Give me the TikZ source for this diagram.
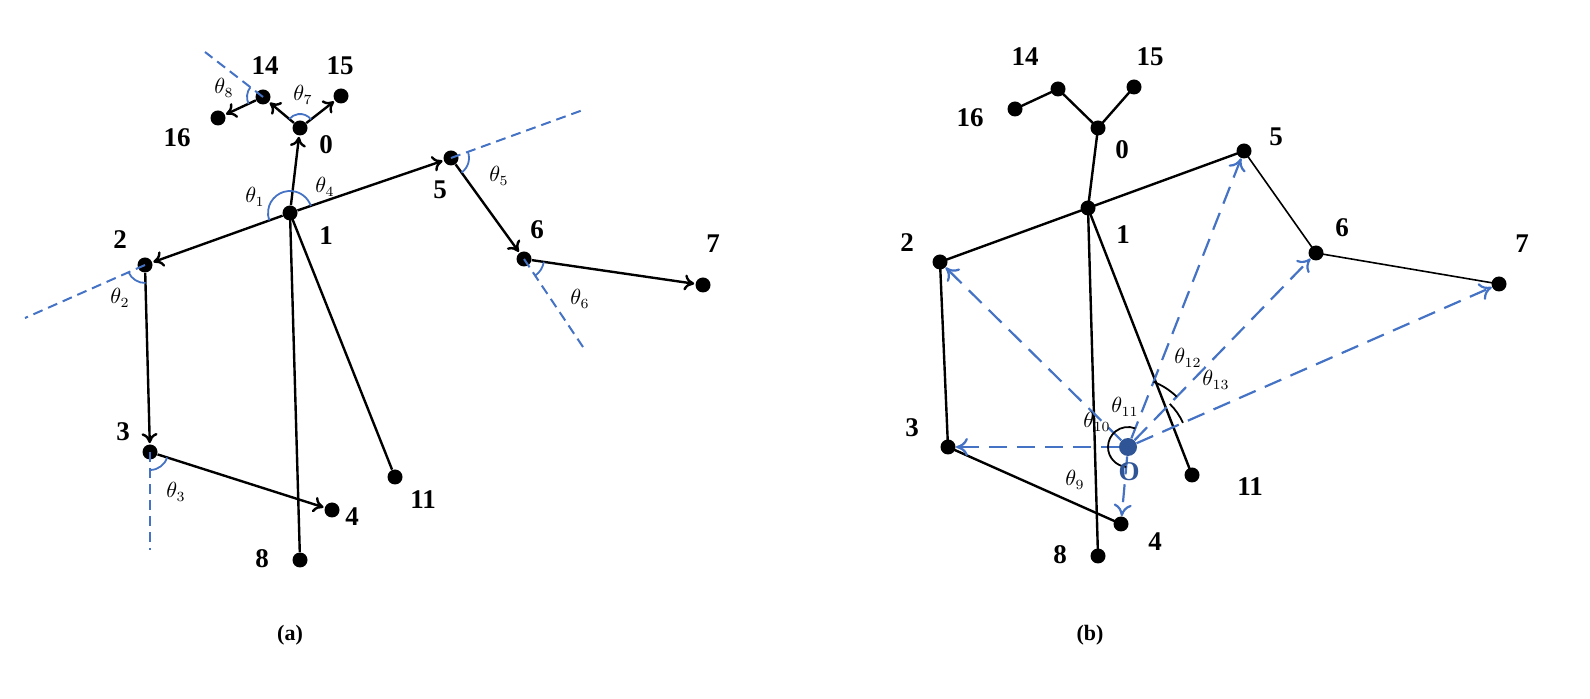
\documentclass[tikz,border=0pt]{standalone}
\usepackage{fontspec}
\setmainfont{Liberation Serif}
\usetikzlibrary{arrows.meta,angles}
\definecolor{bl}{HTML}{4472C4}
\definecolor{dbl}{HTML}{2F5597}
\begin{document}
\begin{tikzpicture}[x=0.5pt,y=-0.5pt,
 dot/.style={circle,fill=black,inner sep=0pt,minimum size=7.5pt},
 lab/.style={font=\fontsize{13.5}{13.5}\selectfont\bfseries},
 th/.style={font=\fontsize{10.5}{10.5}\selectfont},
 ed/.style={line width=1.2pt,-{To[length=5pt,width=8pt]},shorten >=0.5pt},
 ln/.style={line width=1.2pt},
 ext/.style={bl,dashed,line width=1pt,dash pattern=on 5pt off 3pt},
 ba/.style={draw=bl,line width=0.9pt},
 ka/.style={draw=black,line width=0.9pt},
 oa/.style={bl,line width=1.1pt,dash pattern=on 9pt off 5pt,-{To[length=6pt,width=9pt]}}]
% ---------- (a)
\foreach \n/\x/\y in {0/300/128,1/290/213,2/145/265,3/150/452,4/332/510,5/451/158,6/524/259,7/703/285,8/300/560,11/395/477,14/263/97,15/341/96,16/218/118}
  \node[dot] (a\n) at (\x,\y) {};
\coordinate (e14) at (205,52);
\coordinate (e5) at (583,110);
\coordinate (e2) at (25,318);
\coordinate (e6) at (585,350);
\coordinate (e3) at (150,550);
\draw[ext] (a14.center) -- (e14);
\draw[ext] (a5.center) -- (e5);
\draw[ext] (a2.center) -- (e2);
\draw[ext] (a6.center) -- (e6);
\draw[ext] (a3.center) -- (e3);
\draw[ed] (a1) -- (a0);
\draw[ed] (a0) -- (a14);
\draw[ed] (a0) -- (a15);
\draw[ed] (a14) -- (a16);
\draw[ed] (a1) -- (a2);
\draw[ed] (a2) -- (a3);
\draw[ed] (a3) -- (a4);
\draw[ed] (a1) -- (a5);
\draw[ed] (a5) -- (a6);
\draw[ed] (a6) -- (a7);
\draw[ln] (a1.center) -- (a8);
\draw[ln] (a1.center) -- (a11);
\pic[ba,angle radius=11pt]{angle=a0--a1--a2};
\pic[ba,angle radius=11pt]{angle=a5--a1--a0};
\pic[ba,angle radius=7pt]{angle=a15--a0--a14};
\pic[ba,angle radius=8pt]{angle=e14--a14--a16};
\pic[ba,angle radius=9pt]{angle=a6--a5--e5};
\pic[ba,angle radius=10pt]{angle=e6--a6--a7};
\pic[ba,angle radius=9pt]{angle=e2--a2--a3};
\pic[ba,angle radius=9pt]{angle=e3--a3--a4};
\foreach \n/\x/\y in {14/265/66,15/340/66,16/177/138,0/326/145,1/326/236,2/120/240,3/123/432,4/352/517,5/440/190,6/537/230,7/713/244,8/262/559,11/423/500}
  \node[lab] (la\n) at (\x,\y) {\n};
\foreach \k/\x/\y in {1/255/197,4/325/187,7/303/95,8/224/88,5/499/176,6/580/299,2/120/298,3/176/492}
  \node[th] (ta\k) at (\x,\y) {$\theta_{\k}$};
\node[font=\fontsize{11}{11}\selectfont\bfseries] (capa) at (290,635) {(a)};
% ---------- (b)
\foreach \n/\x/\y in {0/1098/128,1/1088/208,2/940/262,3/948/447,4/1121/524,5/1244/151,6/1316/253,7/1499/284,8/1098/556,11/1192/475,14/1058/89,15/1134/87,16/1015/109}
  \node[dot] (b\n) at (\x,\y) {};
\draw[ln] (b16.center) -- (b14.center) -- (b0.center) -- (b15.center);
\draw[ln] (b0.center) -- (b1.center);
\draw[ln] (b2.center) -- (b1.center) -- (b5.center);
\draw[line width=0.8pt] (b5.center) -- (b6.center) -- (b7.center);
\draw[ln] (b2.center) -- (b3.center) -- (b4.center);
\draw[ln] (b1.center) -- (b8.center);
\draw[ln] (b1.center) -- (b11.center);
\node[circle,fill=dbl,inner sep=0pt,minimum size=9pt] (bO) at (1128,447) {};
\foreach \n in {2,3,4,5,6,7} \draw[oa] (bO) -- (b\n);
\pic[ka,angle radius=10pt]{angle=b5--bO--b3};
\pic[ka,angle radius=10pt]{angle=b3--bO--b4};
\pic[ka,angle radius=35pt]{angle=b6--bO--b5};
\pic[ka,angle radius=30pt]{angle=b7--bO--b6};
\foreach \n/\x/\y in {14/1025/57,15/1150/57,16/970/118,0/1122/150,1/1123/235,2/907/243,3/912/428,4/1155/542,5/1276/137,6/1342/228,7/1522/244,8/1060/555,11/1250/487}
  \node[lab] (lb\n) at (\x,\y) {\n};
\node[lab,text=dbl] (lO) at (1129,472) {O};
\foreach \k/\x/\y in {12/1188/358,13/1216/380,11/1125/407,10/1097/422,9/1075/480}
  \node[th] (tb\k) at (\x,\y) {$\theta_{\k}$};
\node[font=\fontsize{11}{11}\selectfont\bfseries] (capb) at (1090,635) {(b)};
\pgfresetboundingbox
\useasboundingbox (0,0) rectangle (1590,699);
\end{tikzpicture}
\end{document}
